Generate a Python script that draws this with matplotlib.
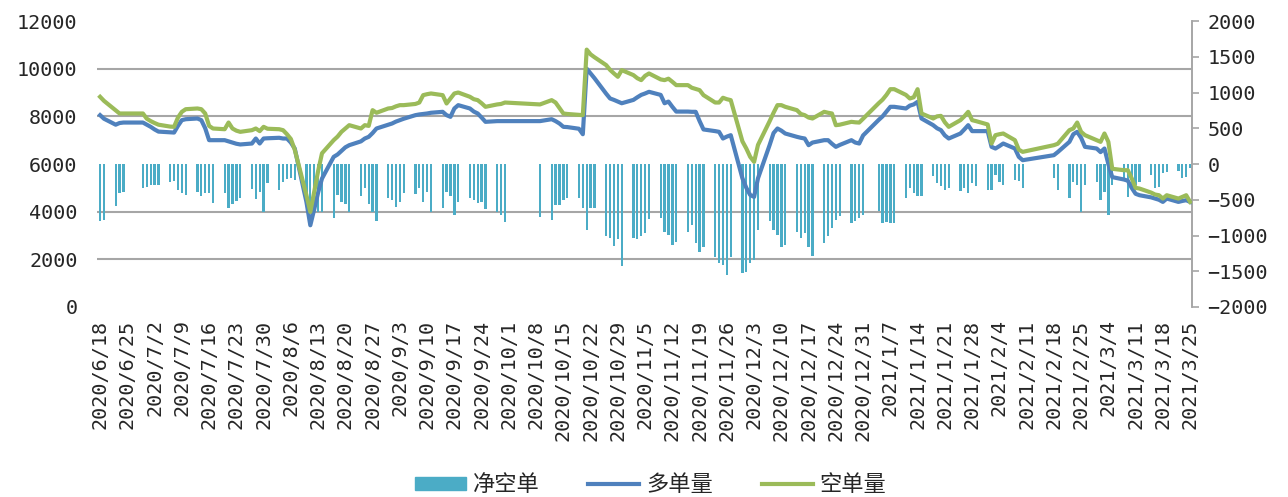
import numpy as np
import pandas as pd
import matplotlib
matplotlib.use('Agg')
import matplotlib.pyplot as plt
from matplotlib.patches import Patch
from matplotlib.lines import Line2D

plt.rcParams['font.family'] = ['Noto Sans CJK SC', 'DejaVu Sans']

# 交易日(剔除节假日)
holidays = ['2020-06-25', '2020-06-26',
            '2020-10-01', '2020-10-02', '2020-10-05', '2020-10-06', '2020-10-07', '2020-10-08',
            '2021-01-01',
            '2021-02-11', '2021-02-12', '2021-02-15', '2021-02-16', '2021-02-17']
dates = pd.bdate_range('2020-06-18', '2021-03-25', freq='C', holidays=holidays)

# 多单量
long_pos = [
    8050, 7900, 7650, 7720, 7740, 7740, 7650,  # 6月
    7560, 7450, 7360, 7330, 7320, 7600, 7840, 7880, 7910, 7840, 7500, 7000, 7000, 7000, 6950, 6900,
    6850, 6820, 6860, 7070, 6860, 7070, 7080,  # 7月
    7100, 7070, 7070, 6900, 6650, 4410, 3430, 4100, 4800, 5390, 6300, 6400, 6550, 6700, 6790, 6950,
    7070, 7140, 7300, 7490, 7650,  # 8月
    7700, 7780, 7840, 7900, 8050, 8080, 8100, 8120, 8150, 8190, 8050, 7980, 8330, 8470, 8330, 8200,
    8120, 7950, 7770, 7800, 7800, 7800,  # 9月
    7800, 7880, 7800, 7700, 7560, 7550, 7480, 7250, 10000, 9800, 9600, 8950, 8750, 8690, 8620, 8550,  # 10月
    8690, 8800, 8900, 8960, 9030, 8900, 8550, 8620, 8400, 8200, 8200, 8190, 8190, 7800, 7450, 7380,
    7350, 7070, 7150, 7210, 5400,  # 11月
    5000, 4700, 4620, 5400, 6800, 7300, 7490, 7400, 7280, 7140, 7100, 7070, 6790, 6900, 7000, 7000,
    6850, 6720, 6800, 7000, 6900, 6860, 7200,  # 12月
    7850, 8000, 8200, 8400, 8400, 8330, 8450, 8500, 8610, 7910, 7630, 7500, 7420, 7200, 7070, 7280,
    7450, 7630, 7380, 7380,  # 1月
    7380, 6720, 6650, 6750, 6860, 6650, 6300, 6160, 6370, 6500, 6930, 7250, 7350, 7100, 6720,  # 2月
    6650, 6500, 6650, 6000, 5450, 5350, 5300, 5000, 4750, 4690, 4600, 4550, 4500, 4410, 4550, 4410,
    4450, 4480, 4410,  # 3月
]

# 空单量
short_pos = [
    8820, 8650, 8250, 8120, 8120, 8120, 7900,
    7800, 7720, 7650, 7570, 7560, 7950, 8190, 8300, 8330, 8300, 8120, 7600, 7490, 7460, 7740, 7490,
    7400, 7350, 7420, 7490, 7380, 7560, 7480,
    7460, 7420, 7250, 7050, 6600, 4690, 3990, 4830, 5700, 6450, 7000, 7150, 7350, 7490, 7630, 7490,
    7630, 7600, 8260, 8150, 8330,
    8350, 8420, 8470, 8470, 8520, 8580, 8890, 8930, 8960, 8890, 8540, 8750, 8960, 9000, 8820, 8720,
    8680, 8550, 8400, 8500, 8520, 8580,
    8500, 8680, 8580, 8350, 8120, 8100, 8060, 8050, 10800, 10600, 10480, 10150, 9950, 9800, 9660, 9940,
    9730, 9600, 9520, 9700, 9800, 9550, 9520, 9580, 9450, 9310, 9310, 9200, 9150, 9100, 8890, 8580,
    8580, 8780, 8720, 8680, 6950,
    6650, 6300, 6090, 6800, 7800, 8150, 8470, 8470, 8400, 8260, 8100, 8050, 7950, 7910, 8190, 8150,
    8120, 7630, 7650, 7770, 7750, 7740, 7900,
    8550, 8700, 8900, 9140, 9140, 8900, 8750, 8800, 9140, 8120, 7910, 8000, 8020, 7750, 7560, 7840,
    8000, 8190, 7840, 7800,
    7660, 6860, 7210, 7250, 7280, 7000, 6600, 6510, 6790, 6850, 7420, 7490, 7740, 7350, 7210,
    7000, 6930, 7280, 6930, 5800, 5740, 5740, 5400, 5000, 4970, 4800, 4720, 4690, 4550, 4690, 4550,
    4620, 4690, 4410,
]

# 净空单
net_short = [
    -800, -785, -590, -405, -385, -330, -315,
    -300, -290, -290, -250, -240, -360, -405, -430, -385, -450, -400, -400, -545, -400, -620, -560,
    -520, -480, -345, -485, -385, -675, -265,
    -360, -245, -215, -200, -225, -400, -625, -665, -665, -665, -760, -440, -530, -560, -665, -450,
    -330, -560, -665, -800, -480,
    -505, -600, -530, -400, -425, -330, -530, -385, -665, -620, -385, -450, -710, -530, -470, -500,
    -550, -530, -630, -665, -710, -805,
    -735, -780, -570, -570, -500, -470, -470, -620, -920, -620, -620, -1010, -1040, -1145, -1050, -1420,
    -1040, -1045, -1010, -960, -770, -750, -945, -990, -1130, -1085, -945, -850, -1110, -1225, -1155,
    -1300, -1390, -1410, -1550, -1300, -1530,
    -1505, -1390, -1340, -920, -800, -920, -995, -1155, -1130, -950, -1040, -965, -1155, -1280, -1105,
    -1010, -895, -780, -730, -825, -800, -760, -710,
    -660, -825, -815, -825, -825, -475, -335, -400, -450, -450, -170, -265, -310, -360, -330, -380,
    -330, -405, -270, -310,
    -360, -360, -150, -250, -290, -218, -242, -335, -200, -363, -480, -247, -294, -666, -294,
    -250, -503, -387, -713, -294, -200, -457, -320, -300, -250, -150, -340, -320, -130, -110, -100,
    -200, -180, -60,
]

assert len(dates) == len(long_pos) == len(short_pos) == len(net_short)

c_bar = '#4BACC6'
c_long = '#4F81BD'
c_short = '#9BBB59'
c_grid = '#A6A6A6'
c_text = '#262626'
tick_font = {'family': 'DejaVu Sans Mono', 'size': 14.5}

fig = plt.figure(figsize=(12.88, 4.97), dpi=100)
ax2 = fig.add_axes([0.0753, 0.3823, 0.8502, 0.5754])   # 净空单 右轴
ax1 = ax2.twinx()                                      # 多空单量 左轴

ax2.bar(dates, net_short, width=0.6, color=c_bar, zorder=2)
ax2.set_ylim(-2000, 2000)
ax2.set_yticks(np.arange(-2000, 2001, 500))
ax2.yaxis.tick_right()
ax2.set_yticks(np.linspace(-2000, 2000, 7), minor=True)
ax2.grid(which='minor', axis='y', color=c_grid, lw=1.5, zorder=0)
ax2.tick_params(axis='y', which='minor', length=0)
ax2.tick_params(axis='y', which='major', direction='out', length=5, color=c_grid, width=1.2,
                pad=6, labelcolor=c_text)

ax1.plot(dates, long_pos, color=c_long, lw=3, solid_joinstyle='round', zorder=3)
ax1.plot(dates, short_pos, color=c_short, lw=3, solid_joinstyle='round', zorder=4)
ax1.set_ylim(0, 12000)
ax1.set_yticks(np.arange(0, 12001, 2000))
ax1.yaxis.tick_left()
ax1.tick_params(axis='y', length=0, pad=14, labelcolor=c_text)

for a in (ax1, ax2):
    for s in ('left', 'top', 'bottom'):
        a.spines[s].set_visible(False)
    a.spines['right'].set_color(c_grid)
    a.spines['right'].set_linewidth(1.2)
    for lab in a.get_yticklabels():
        lab.set_fontproperties(tick_font)

tick_dates = pd.date_range('2020-06-18', '2021-03-25', freq='7D')
ax2.set_xticks(tick_dates)
ax2.set_xticklabels([f'{d.year}/{d.month}/{d.day}' for d in tick_dates], rotation=90,
                    fontdict=tick_font, color=c_text)
ax2.tick_params(axis='x', length=0, pad=9)
ax2.set_xlim(dates[0] - pd.Timedelta(days=0.8), dates[-1] + pd.Timedelta(days=0.5))

handles = [Patch(color=c_bar), Line2D([], [], color=c_long, lw=3), Line2D([], [], color=c_short, lw=3)]
fig.legend(handles, ['净空单', '多单量', '空单量'], loc='center', bbox_to_anchor=(0.505, 0.025),
           ncol=3, frameon=False, fontsize=16, handlelength=2.3, handleheight=0.5,
           columnspacing=2.2, handletextpad=0.3, labelcolor=c_text)

fig.savefig('out.png', dpi=100)
